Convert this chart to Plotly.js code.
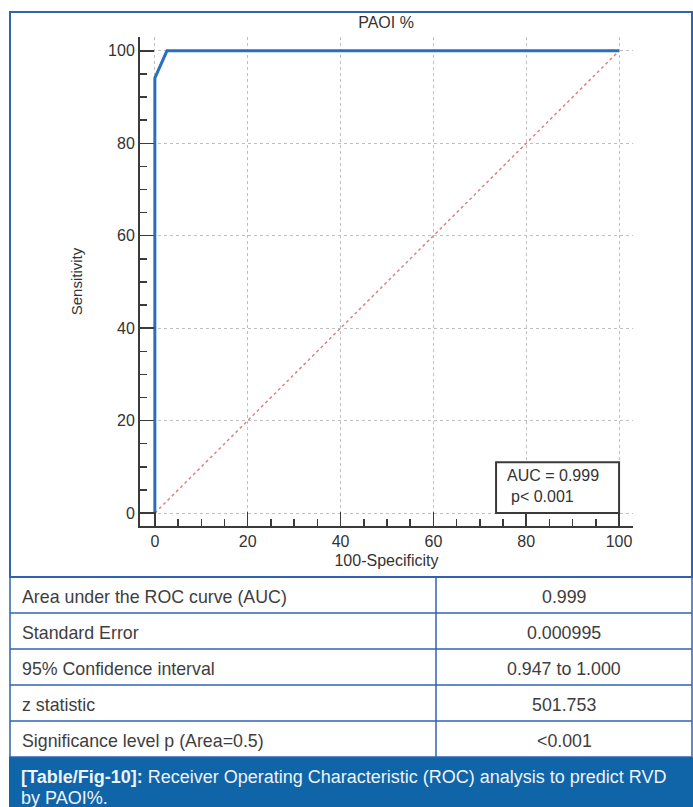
<!DOCTYPE html>
<html>
<head>
<meta charset="utf-8">
<script src="https://cdn.plot.ly/plotly-3.0.1.min.js"></script>
<style>
html,body{margin:0;padding:0;background:#fff;}
#chart{width:693px;height:807px;}
</style>
</head>
<body>
<div id="chart"></div>
<script>
// ROC curve (100-Specificity vs Sensitivity)
var rocX = [0, 0, 2.6, 100];
var rocY = [0, 94.1, 100, 100];
// Reference (chance) diagonal
var refX = [0, 100];
var refY = [0, 100];
// Tick values
var majorTicks = [0, 20, 40, 60, 80, 100];
// AUC box text
var aucText = "AUC = 0.999";
var pText = "p< 0.001";
// Table rows
var tableLabels = ["Area under the ROC curve (AUC)", "Standard Error", "95% Confidence interval", "z statistic", "Significance level p (Area=0.5)"];
var tableValues = ["0.999", "0.000995", "0.947 to 1.000", "501.753", "<0.001"];
// Caption
var captionBold = "[Table/Fig-10]:";
var captionLine1 = " Receiver Operating Characteristic (ROC) analysis to predict RVD";
var captionLine2 = "by PAOI%.";

var W = 693, H = 807;
function px(x){return x/W;}
function py(y){return 1 - y/H;}

var font = "Liberation Sans, Arial, sans-serif";
var dark = "#333333";
var blueBorder = "#3163b3";

var traces = [
  {x: refX, y: refY, type: "scatter", mode: "lines",
   line: {color: "#dc8282", width: 1.5, dash: "dot"}, hoverinfo: "skip", showlegend: false},
  {x: rocX, y: rocY, type: "scatter", mode: "lines",
   line: {color: "#2a6fbd", width: 3}, showlegend: false}
];

var axisCommon = {
  showline: true, linecolor: "#3a3a3a", linewidth: 2, mirror: false,
  ticks: "inside", ticklen: 14, tickwidth: 1.5, tickcolor: "#3a3a3a",
  tickvals: majorTicks, zeroline: false,
  showgrid: true, gridcolor: "#c0c0c0", gridwidth: 1, griddash: "dot",
  tickfont: {family: font, size: 16, color: dark},
  minor: {dtick: 5, ticks: "inside", ticklen: 7, tickwidth: 1.5, tickcolor: "#3a3a3a", showgrid: false},
  fixedrange: true
};

// Table geometry (pixels)
var tblLeft = 10, tblRight = 692, tblDiv = 436, tblTop = 577, rowH = 36;

var shapes = [
  {type: "rect", xref: "paper", yref: "paper", x0: px(10), x1: px(692), y0: py(577), y1: py(12),
   line: {color: blueBorder, width: 2}, fillcolor: "rgba(0,0,0,0)", layer: "below"},
  {type: "rect", xref: "x", yref: "y", x0: 73.5, x1: 100, y0: 0, y1: 11,
   line: {color: "#3a3a3a", width: 2}, fillcolor: "#ffffff", layer: "above"},
  {type: "rect", xref: "paper", yref: "paper", x0: px(9), x1: px(693), y0: py(807), y1: py(757),
   line: {width: 0}, fillcolor: "#1064a8"}
];

var annotations = [
  {xref: "x", yref: "y", x: 75.4, y: 8.2, xanchor: "left", yanchor: "middle", showarrow: false,
   text: aucText, font: {family: font, size: 16, color: dark}},
  {xref: "x", yref: "y", x: 76.2, y: 3.5, xanchor: "left", yanchor: "middle", showarrow: false,
   text: pText, font: {family: font, size: 16, color: dark}},
  {xref: "paper", yref: "paper", x: px(19), y: py(777), xanchor: "left", yanchor: "middle", showarrow: false,
   text: "<b>" + captionBold + "</b>" + captionLine1, font: {family: font, size: 18, color: "#eef3f8"}},
  {xref: "paper", yref: "paper", x: px(19), y: py(798), xanchor: "left", yanchor: "middle", showarrow: false,
   text: captionLine2, font: {family: font, size: 18, color: "#eef3f8"}}
];

// Table: borders
var nRows = tableLabels.length;
var tblBottom = tblTop + nRows * rowH;
shapes.push({type: "rect", xref: "paper", yref: "paper", x0: px(tblLeft), x1: px(tblRight),
             y0: py(tblBottom), y1: py(tblTop), line: {color: blueBorder, width: 1.5}, fillcolor: "rgba(0,0,0,0)"});
shapes.push({type: "line", xref: "paper", yref: "paper", x0: px(tblDiv), x1: px(tblDiv),
             y0: py(tblBottom), y1: py(tblTop), line: {color: blueBorder, width: 1.5}});
for (var i = 1; i < nRows; i++) {
  var yy = tblTop + i * rowH;
  shapes.push({type: "line", xref: "paper", yref: "paper", x0: px(tblLeft), x1: px(tblRight),
               y0: py(yy), y1: py(yy), line: {color: blueBorder, width: 1.5}});
}
// Table: texts
for (var j = 0; j < nRows; j++) {
  var cy = tblTop + j * rowH + 20;
  annotations.push({xref: "paper", yref: "paper", x: px(20), y: py(cy), xanchor: "left", yanchor: "middle",
                    showarrow: false, text: tableLabels[j], font: {family: font, size: 17.8, color: "#3e3e3e"}});
  annotations.push({xref: "paper", yref: "paper", x: px((tblDiv + tblRight) / 2), y: py(cy), xanchor: "center", yanchor: "middle",
                    showarrow: false, text: tableValues[j], font: {family: font, size: 17.8, color: "#3e3e3e"}});
}

var layout = {
  width: W, height: H,
  margin: {l: 0, r: 0, t: 0, b: 0},
  paper_bgcolor: "#ffffff", plot_bgcolor: "#ffffff",
  font: {family: font, color: dark},
  title: {text: "PAOI %", x: px(386), xanchor: "center", y: py(22), yanchor: "middle",
          font: {family: font, size: 16, color: dark}},
  xaxis: Object.assign({}, axisCommon, {
    domain: [px(140), px(633)], range: [-3.2, 103],
    title: {text: "100-Specificity", font: {family: font, size: 16, color: dark}, standoff: 6}
  }),
  yaxis: Object.assign({}, axisCommon, {
    domain: [py(526), py(37)], range: [-2.8, 103],
    title: {text: "Sensitivity", font: {family: font, size: 15, color: dark}, standoff: 22}
  }),
  shapes: shapes,
  annotations: annotations
};

Plotly.newPlot("chart", traces, layout, {displayModeBar: false, staticPlot: true});
</script>
</body>
</html>
